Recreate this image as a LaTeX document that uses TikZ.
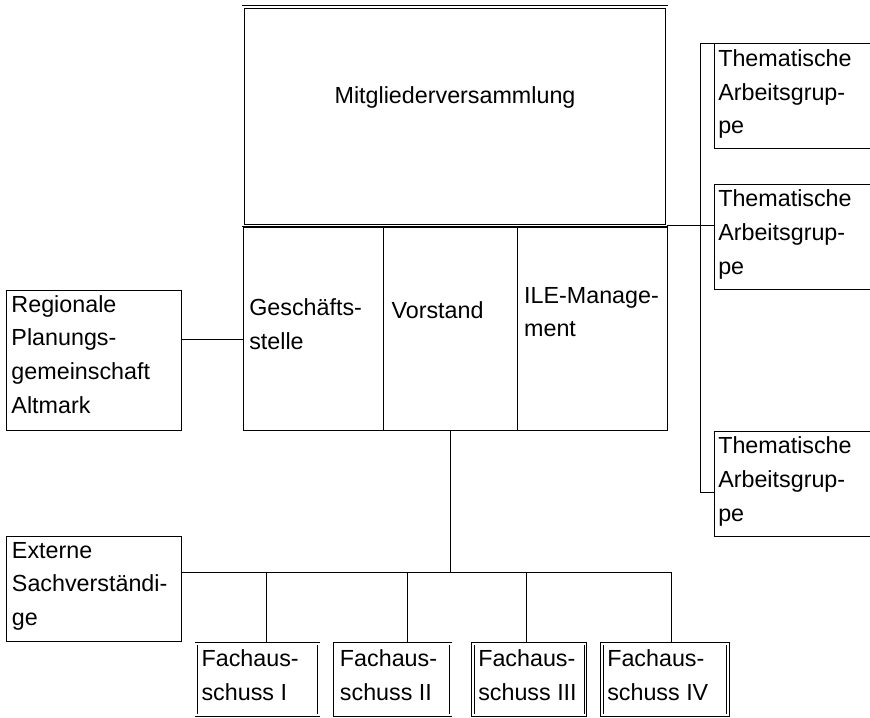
\documentclass[tikz,border=0pt]{standalone}
\usepackage{fontspec}
\setmainfont{Liberation Sans}
\usetikzlibrary{positioning}

\tikzset{
  box/.style={draw, line width=0.7pt, anchor=north west, inner sep=0pt, outer sep=0pt},
  dbox/.style={box, line width=0.6pt, double, double distance=1.3pt},
  txt/.style={anchor=north west, align=left, inner sep=0pt, font=\fontsize{16.57}{24}\selectfont},
  link/.style={line width=0.7pt},
}

\begin{document}
\begin{tikzpicture}[x=0.025cm, y=-0.025cm]
    \useasboundingbox (0,0) rectangle (870,718);

    \node[dbox, minimum width=10.58cm, minimum height=5.46cm] (mv) at (243.4,7) {};
    \node[txt, anchor=base] (mv-t) at ([shift={(0,96.3)}]mv.north) {Mitgliederversammlung};

    \node[box, minimum width=3.5cm, minimum height=5.06cm] (gs) at (243.3,227.7) {};
    \node[box, minimum width=3.35cm, minimum height=5.06cm, right=0pt of gs] (vs) {};
    \node[box, minimum width=3.76cm, minimum height=5.06cm, right=0pt of vs] (ile) {};
    \node[txt] (gs-t) at ([shift={(5.7,71)}]gs.north west) {Geschäfts-\\stelle};
    \node[txt] (vs-t) at ([shift={(8,73.4)}]vs.north west) {Vorstand};
    \node[txt] (ile-t) at ([shift={(6.5,59.2)}]ile.north west) {ILE-Manage-\\ment};

    \node[box, minimum width=4.375cm, minimum height=3.5cm] (rpg) at (6.7,290) {};
    \node[txt] (rpg-t) at ([shift={(4.5,5)}]rpg.north west) {Regionale\\Planungs-\\gemeinschaft\\Altmark};
    \node[box, minimum width=4.375cm, minimum height=2.64cm] (ext) at (6.7,536) {};
    \node[txt] (ext-t) at ([shift={(5,5.9)}]ext.north west) {Externe\\Sachverständi-\\ge};

    \node[box, minimum width=4.15cm, minimum height=2.64cm] (ta1) at (714,43.3) {};
    \node[box, minimum width=4.15cm, minimum height=2.63cm] (ta2) at (714,184) {};
    \node[box, minimum width=4.15cm, minimum height=2.63cm] (ta3) at (714,431) {};
    \foreach \nm in {ta1,ta2,ta3}
      \node[txt] (\nm-t) at ([shift={(4,5.8)}]\nm.north west) {Thematische\\Arbeitsgrup-\\pe};

    \node[dbox, minimum width=3.06cm, minimum height=1.79cm] (fa1) at (196.3,643.7) {};
    \node[dbox, minimum width=2.9cm, minimum height=1.79cm] (fa2) at (334.7,643.7) {};
    \node[dbox, minimum width=2.81cm, minimum height=1.79cm] (fa3) at (473,643.7) {};
    \node[dbox, minimum width=3.15cm, minimum height=1.79cm] (fa4) at (602,643.7) {};
    \foreach \nm/\num in {fa1/I,fa2/II,fa3/III,fa4/IV}
      \node[txt] (\nm-t) at ([shift={(5,6)}]\nm.north west) {Fachaus-\\schuss \num};

    \draw[link] (rpg.east |- 0,339) -- (gs.west |- 0,339);
    \draw[link] (mv.south east) -- (ta2.west |- mv.south east);
    \draw[link] (ta1.north west) -- ++(-14,0) |- (ta3.west |- 0,492.3);

    \coordinate (hub) at (vs.south |- 0,572.3);
    \draw[link] (vs.south) -- (hub);
    \draw[link] (ext.east |- hub) -- (671,572.3);
    \foreach \nm/\x in {fa1/266,fa2/407,fa3/526,fa4/671}
      \draw[link, shorten >=1pt] (\x,572.3) -- (\nm.north -| \x,0);
\end{tikzpicture}
\end{document}
